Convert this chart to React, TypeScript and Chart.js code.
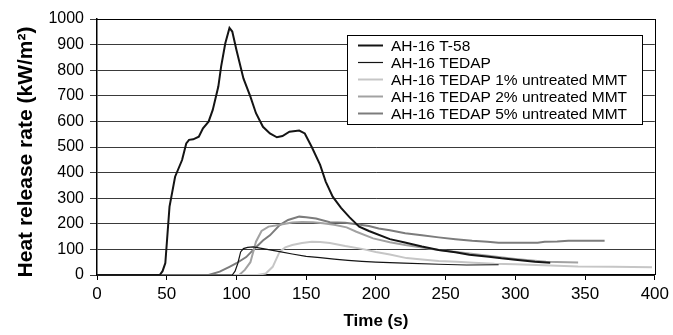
import { useEffect, useRef } from "react";
import { Chart, registerables } from "chart.js";
Chart.register(...registerables);

const FONT = "'Liberation Sans', Arial, Helvetica, sans-serif";

const seriesNames = [
  "AH-16 T-58",
  "AH-16 TEDAP",
  "AH-16 TEDAP 1% untreated MMT",
  "AH-16 TEDAP 2% untreated MMT",
  "AH-16 TEDAP 5% untreated MMT",
];

const t58Time = [0, 45, 47, 49, 52, 56, 61, 64, 66, 69, 73, 76, 80, 83, 87, 89, 92, 95, 97, 100, 105, 110, 114, 119, 124, 129, 133, 138, 145, 149, 154, 160, 164, 169, 175, 181, 188, 195, 210, 220, 233, 245, 257, 267, 281, 290, 300, 314, 325];
const t58Hrr = [0, 0, 15, 47, 267, 384, 449, 514, 528, 530, 540, 573, 599, 645, 736, 814, 905, 965, 951, 879, 768, 697, 632, 579, 553, 538, 543, 560, 564, 553, 500, 430, 365, 306, 262, 226, 189, 172, 140, 128, 111, 98, 89, 79, 71, 65, 60, 52, 48];

const tedapTime = [0, 97, 99, 101, 103, 105, 108, 112, 120, 131, 140, 150, 160, 170, 180, 190, 200, 220, 245, 265, 288];
const tedapHrr = [0, 0, 15, 46, 90, 103, 108, 110, 102, 91, 82, 73, 68, 62, 57, 53, 50, 46, 42, 39, 40];

const mmt1Time = [0, 115, 121, 126, 131, 135, 140, 147, 154, 160, 167, 178, 190, 200, 210, 222, 235, 245, 258, 270, 285, 300, 320, 345, 370, 398];
const mmt1Hrr = [0, 0, 6, 32, 91, 108, 117, 125, 130, 129, 125, 113, 102, 90, 80, 66, 60, 55, 52, 48, 44, 42, 38, 33, 32, 30];

const mmt2Time = [0, 102, 106, 110, 114, 118, 123, 128, 134, 140, 147, 155, 162, 170, 179, 186, 198, 210, 221, 233, 245, 258, 270, 288, 300, 322, 345];
const mmt2Hrr = [0, 0, 20, 50, 130, 172, 189, 193, 199, 205, 207, 206, 202, 196, 186, 169, 143, 128, 117, 107, 98, 90, 82, 70, 63, 52, 49];

const mmt5Time = [0, 80, 88, 95, 100, 107, 112, 119, 124, 131, 137, 145, 150, 157, 167, 178, 186, 195, 202, 210, 221, 233, 245, 257, 269, 280, 288, 300, 316, 321, 330, 338, 350, 364];
const mmt5Hrr = [0, 0, 13, 32, 46, 70, 98, 135, 155, 195, 215, 228, 226, 221, 206, 204, 198, 191, 182, 175, 163, 155, 147, 140, 134, 130, 126, 126, 126, 130, 131, 134, 134, 134];

const xTicks = [0, 50, 100, 150, 200, 250, 300, 350, 400];
const yTicks = [0, 100, 200, 300, 400, 500, 600, 700, 800, 900, 1000];

const xTitle = "Time (s)";
const yTitle = "Heat release rate (kW/m²)";

const seriesColors = ["#141414", "#141414", "#c6c6c6", "#a2a2a2", "#7c7c7c"];
const seriesWidths = [2, 1.2, 2, 2, 2];

const times = [t58Time, tedapTime, mmt1Time, mmt2Time, mmt5Time];
const values = [t58Hrr, tedapHrr, mmt1Hrr, mmt2Hrr, mmt5Hrr];

export default function App() {
  const ref = useRef<HTMLCanvasElement>(null);

  useEffect(() => {
    if (!ref.current) return;

    const framePlugin = {
      id: "frame",
      afterDatasetsDraw(chart: any) {
        const { ctx, chartArea } = chart;
        ctx.save();
        ctx.strokeStyle = "#000";
        ctx.lineWidth = 1;
        ctx.beginPath();
        ctx.moveTo(Math.round(chartArea.right) + 0.5, chartArea.top);
        ctx.lineTo(Math.round(chartArea.right) + 0.5, chartArea.bottom);
        ctx.moveTo(chartArea.left, Math.round(chartArea.top) + 0.5);
        ctx.lineTo(chartArea.right, Math.round(chartArea.top) + 0.5);
        ctx.stroke();
        ctx.restore();
      },
    };

    const yTitlePlugin = {
      id: "yTitle",
      afterDraw(chart: any) {
        const ctx = chart.ctx;
        ctx.save();
        ctx.translate(26, 152);
        ctx.rotate(-Math.PI / 2);
        ctx.fillStyle = "#000";
        ctx.font = `bold 21px ${FONT}`;
        ctx.textAlign = "center";
        ctx.textBaseline = "middle";
        ctx.fillText(yTitle, 0, 0);
        ctx.restore();
      },
    };

    const legendPlugin = {
      id: "boxLegend",
      afterDraw(chart: any) {
        const ctx = chart.ctx;
        ctx.save();
        const x0 = 347.5, y0 = 35.5, w = 295, h = 89;
        ctx.fillStyle = "#fff";
        ctx.fillRect(x0, y0, w, h);
        ctx.strokeStyle = "#000";
        ctx.lineWidth = 1;
        ctx.strokeRect(x0, y0, w, h);
        chart.data.datasets.forEach((ds: any, i: number) => {
          const y = 45.5 + i * 17;
          ctx.strokeStyle = ds.borderColor;
          ctx.lineWidth = ds.borderWidth;
          ctx.beginPath();
          ctx.moveTo(358, y);
          ctx.lineTo(383, y);
          ctx.stroke();
          ctx.fillStyle = "#000";
          ctx.font = `15.5px ${FONT}`;
          ctx.textBaseline = "middle";
          ctx.textAlign = "left";
          ctx.fillText(ds.label, 391, y + 1);
        });
        ctx.restore();
      },
    };

    const chart = new Chart(ref.current, {
      type: "line",
      data: {
        datasets: seriesNames.map((name, i) => ({
          label: name,
          data: times[i].map((t, j) => ({ x: t, y: values[i][j] })),
          borderColor: seriesColors[i],
          backgroundColor: seriesColors[i],
          borderWidth: seriesWidths[i],
          pointRadius: 0,
          tension: 0,
          fill: false,
        })),
      },
      options: {
        animation: false,
        responsive: false,
        devicePixelRatio: 1,
        layout: { padding: { top: 19, right: 16, left: 0, bottom: 0 } },
        plugins: {
          legend: { display: false },
          tooltip: { enabled: false },
        },
        scales: {
          x: {
            type: "linear",
            min: 0,
            max: 400,
            afterFit: (s: any) => { s.height = 60; },
            afterBuildTicks: (s: any) => { s.ticks = xTicks.map((v) => ({ value: v })); },
            ticks: {
              autoSkip: false,
              maxRotation: 0,
              padding: 4,
              color: "#000",
              font: { family: FONT, size: 17 },
              callback: (v: any) => String(v),
            },
            grid: { drawOnChartArea: false, drawTicks: true, tickLength: 5, color: "#000" },
            border: { display: true, color: "#000", width: 1.5 },
            title: {
              display: true,
              text: xTitle,
              color: "#000",
              font: { family: FONT, size: 17, weight: "bold" },
              padding: { top: 0, bottom: 3 },
            },
          },
          y: {
            type: "linear",
            min: 0,
            max: 1000,
            afterFit: (s: any) => { s.width = 97; },
            afterBuildTicks: (s: any) => { s.ticks = yTicks.map((v) => ({ value: v })); },
            ticks: {
              padding: 6,
              color: "#000",
              font: { family: FONT, size: 16 },
              callback: (v: any) => String(v),
            },
            grid: { color: "#3a3a3a", lineWidth: 1, tickLength: 7 },
            border: { display: true, color: "#000", width: 1.5 },
          },
        },
      },
      plugins: [framePlugin, legendPlugin, yTitlePlugin],
    } as any);

    return () => chart.destroy();
  }, []);

  return (
    <div style={{ position: "fixed", left: 0, top: 0, width: 673, height: 335, background: "#fff" }}>
      <canvas ref={ref} width={673} height={335} style={{ display: "block" }} />
    </div>
  );
}
